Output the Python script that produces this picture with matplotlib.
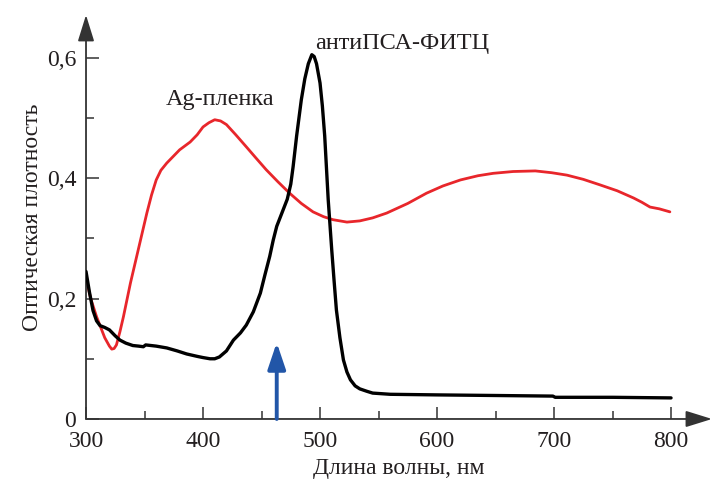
import matplotlib.pyplot as plt
from matplotlib.ticker import FixedLocator

# wavelength (nm) / optical density
wl_fitc = [300, 303, 306, 309, 312, 316, 320, 325, 329, 334, 340, 345, 349,
           351, 360, 369, 378, 386, 395, 400, 406, 410, 414, 420, 426, 432,
           437, 443, 449, 453, 457, 460, 463, 468, 472, 475, 477, 480, 484,
           487, 490, 493, 495, 497, 500, 502, 504, 507, 510, 512, 514, 517,
           520, 523, 526, 530, 534, 540, 545, 560, 600, 650, 699, 701, 750,
           800]
od_fitc = [0.245, 0.21, 0.18, 0.163, 0.155, 0.152, 0.148, 0.138, 0.131, 0.126,
           0.122, 0.121, 0.12, 0.123, 0.121, 0.118, 0.113, 0.108, 0.104,
           0.102, 0.1, 0.1, 0.103, 0.113, 0.131, 0.143, 0.156, 0.178, 0.209,
           0.24, 0.27, 0.297, 0.32, 0.345, 0.365, 0.39, 0.419, 0.47, 0.53,
           0.565, 0.59, 0.605, 0.602, 0.59, 0.558, 0.52, 0.47, 0.364, 0.281,
           0.23, 0.181, 0.135, 0.098, 0.078, 0.065, 0.055, 0.05, 0.046, 0.043,
           0.041, 0.040, 0.039, 0.038, 0.036, 0.036, 0.035]

wl_ag = [300, 304, 309, 316, 320, 322, 324, 326, 329, 332, 338, 345, 352, 356,
         360, 364, 369, 375, 380, 389, 395, 400, 405, 410, 415, 420, 428, 437,
         445, 454, 464, 474, 484, 494, 503, 511, 523, 534, 545, 557, 575, 591,
         605, 620, 635, 648, 665, 684, 698, 711, 725, 739, 754, 768, 775, 782,
         790, 799]
od_ag = [0.234, 0.2, 0.17, 0.135, 0.121, 0.116, 0.117, 0.123, 0.145, 0.17,
         0.226, 0.284, 0.342, 0.372, 0.397, 0.413, 0.425, 0.437, 0.447, 0.46,
         0.472, 0.485, 0.492, 0.497, 0.495, 0.489, 0.472, 0.452, 0.434, 0.414,
         0.394, 0.375, 0.358, 0.344, 0.336, 0.331, 0.327, 0.329, 0.334, 0.342,
         0.358, 0.375, 0.387, 0.397, 0.404, 0.408, 0.411, 0.412, 0.409, 0.405,
         0.398, 0.389, 0.379, 0.367, 0.36, 0.352, 0.349, 0.344]

excitation_nm = 463
excitation_top = 0.127

x_major = [300, 400, 500, 600, 700, 800]
x_minor = [350, 450, 550, 650, 750]
y_major = [0, 0.2, 0.4, 0.6]
y_labels = ["0", "0,2", "0,4", "0,6"]
y_minor = [0.1, 0.3, 0.5]

INK = "#231f20"
AXIS = "#333333"
RED = "#e8262b"
BLUE = "#2256a8"

plt.rcParams["font.family"] = ["Liberation Serif", "DejaVu Serif"]

fig = plt.figure(figsize=(7.12, 4.86), dpi=100)
ax = fig.add_axes([0.1208, 0.1379, 0.8792, 0.8313])
ax.set_xlim(300, 835)
ax.set_ylim(0, 0.671)

ax.plot(wl_ag, od_ag, color=RED, lw=2.0, solid_capstyle="round",
        solid_joinstyle="round", zorder=3)
ax.plot(wl_fitc, od_fitc, color="black", lw=2.4, solid_capstyle="round",
        solid_joinstyle="round", zorder=4)

ax.annotate("", xy=(excitation_nm, excitation_top), xytext=(excitation_nm, 0),
            arrowprops=dict(arrowstyle="-|>,head_length=0.8,head_width=0.27",
                            mutation_scale=20, lw=2.8, color=BLUE,
                            shrinkA=0, shrinkB=0), zorder=5)

ax.text(415, 0.53, "Ag-пленка", fontsize=17.5, color=INK,
        ha="center", va="center")
ax.text(570, 0.623, "антиПСА-ФИТЦ", fontsize=17.5, color=INK,
        ha="center", va="center")

for s in ax.spines.values():
    s.set_visible(False)
arrow_kw = dict(arrowstyle="-|>,head_length=0.9,head_width=0.28",
                mutation_scale=18, lw=1.3, color=AXIS, shrinkA=0, shrinkB=0)
ax.annotate("", xy=(1.0, 0), xytext=(0, 0), xycoords="axes fraction",
            arrowprops=arrow_kw, annotation_clip=False)
ax.annotate("", xy=(0, 1.0), xytext=(0, 0), xycoords="axes fraction",
            arrowprops=arrow_kw, annotation_clip=False)

ax.xaxis.set_major_locator(FixedLocator(x_major))
ax.xaxis.set_minor_locator(FixedLocator(x_minor))
ax.yaxis.set_major_locator(FixedLocator(y_major))
ax.yaxis.set_minor_locator(FixedLocator(y_minor))
ax.set_yticklabels(y_labels)
ax.tick_params(which="major", direction="in", length=9, width=1.1,
               color=AXIS, labelsize=17, labelcolor=INK)
ax.tick_params(axis="x", which="major", pad=9)
ax.tick_params(axis="y", which="major", pad=7)
ax.tick_params(which="minor", direction="in", length=6, width=1.1,
               color=AXIS)

ax.set_xlabel("Длина волны, нм", fontsize=17, color=INK, labelpad=4)
ax.set_ylabel("Оптическая плотность", fontsize=17, color=INK, labelpad=3)

fig.savefig("out.png", dpi=100)
